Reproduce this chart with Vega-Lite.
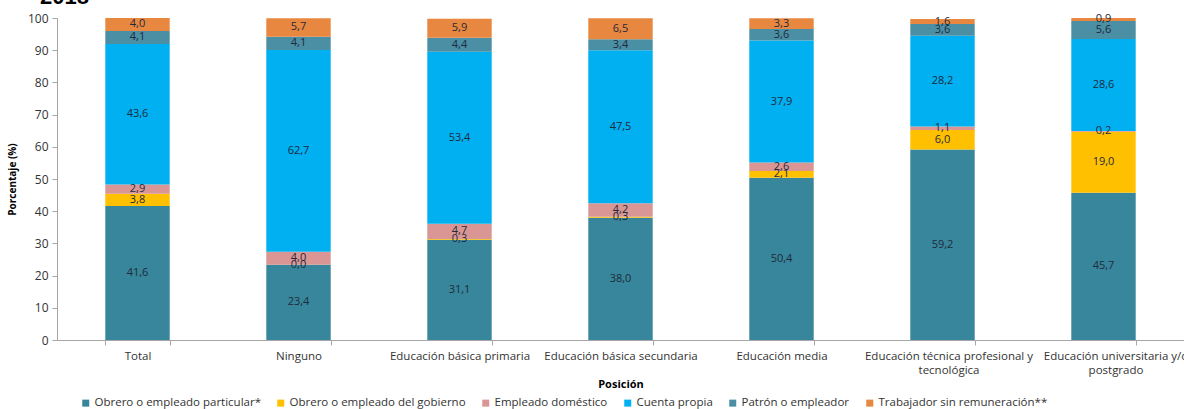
{
  "$schema": "https://vega.github.io/schema/vega-lite/v6.json",
  "autosize": "none",
  "width": 1127,
  "height": 322,
  "padding": {"left": 57, "top": 18, "right": 0, "bottom": 69},
  "background": "white",
  "title": {"text": "2018", "anchor": "start", "frame": "group", "fontSize": 22, "font": "Liberation Sans", "fontWeight": "bold", "color": "#000000", "dx": -17, "offset": -14, "baseline": "alphabetic"},
  "config": {
    "locale": {"number": {"decimal": ",", "thousands": ".", "grouping": [3], "currency": ["", ""]}},
    "font": "Open Sans",
    "view": {"stroke": null}
  },
  "data": {"values": [
    {"nivel": "Total", "pos": "Obrero o empleado particular*", "o": 1, "v": 41.6},
    {"nivel": "Total", "pos": "Obrero o empleado del gobierno", "o": 2, "v": 3.8},
    {"nivel": "Total", "pos": "Empleado doméstico", "o": 3, "v": 2.9},
    {"nivel": "Total", "pos": "Cuenta propia", "o": 4, "v": 43.6},
    {"nivel": "Total", "pos": "Patrón o empleador", "o": 5, "v": 4.1},
    {"nivel": "Total", "pos": "Trabajador sin remuneración**", "o": 6, "v": 4.0},
    {"nivel": "Ninguno", "pos": "Obrero o empleado particular*", "o": 1, "v": 23.4},
    {"nivel": "Ninguno", "pos": "Obrero o empleado del gobierno", "o": 2, "v": 0.0},
    {"nivel": "Ninguno", "pos": "Empleado doméstico", "o": 3, "v": 4.0},
    {"nivel": "Ninguno", "pos": "Cuenta propia", "o": 4, "v": 62.7},
    {"nivel": "Ninguno", "pos": "Patrón o empleador", "o": 5, "v": 4.1},
    {"nivel": "Ninguno", "pos": "Trabajador sin remuneración**", "o": 6, "v": 5.7},
    {"nivel": "Educación básica primaria", "pos": "Obrero o empleado particular*", "o": 1, "v": 31.1},
    {"nivel": "Educación básica primaria", "pos": "Obrero o empleado del gobierno", "o": 2, "v": 0.3},
    {"nivel": "Educación básica primaria", "pos": "Empleado doméstico", "o": 3, "v": 4.7},
    {"nivel": "Educación básica primaria", "pos": "Cuenta propia", "o": 4, "v": 53.4},
    {"nivel": "Educación básica primaria", "pos": "Patrón o empleador", "o": 5, "v": 4.4},
    {"nivel": "Educación básica primaria", "pos": "Trabajador sin remuneración**", "o": 6, "v": 5.9},
    {"nivel": "Educación básica secundaria", "pos": "Obrero o empleado particular*", "o": 1, "v": 38.0},
    {"nivel": "Educación básica secundaria", "pos": "Obrero o empleado del gobierno", "o": 2, "v": 0.3},
    {"nivel": "Educación básica secundaria", "pos": "Empleado doméstico", "o": 3, "v": 4.2},
    {"nivel": "Educación básica secundaria", "pos": "Cuenta propia", "o": 4, "v": 47.5},
    {"nivel": "Educación básica secundaria", "pos": "Patrón o empleador", "o": 5, "v": 3.4},
    {"nivel": "Educación básica secundaria", "pos": "Trabajador sin remuneración**", "o": 6, "v": 6.5},
    {"nivel": "Educación media", "pos": "Obrero o empleado particular*", "o": 1, "v": 50.4},
    {"nivel": "Educación media", "pos": "Obrero o empleado del gobierno", "o": 2, "v": 2.1},
    {"nivel": "Educación media", "pos": "Empleado doméstico", "o": 3, "v": 2.6},
    {"nivel": "Educación media", "pos": "Cuenta propia", "o": 4, "v": 37.9},
    {"nivel": "Educación media", "pos": "Patrón o empleador", "o": 5, "v": 3.6},
    {"nivel": "Educación media", "pos": "Trabajador sin remuneración**", "o": 6, "v": 3.3},
    {"nivel": "Educación técnica profesional y tecnológica", "pos": "Obrero o empleado particular*", "o": 1, "v": 59.2},
    {"nivel": "Educación técnica profesional y tecnológica", "pos": "Obrero o empleado del gobierno", "o": 2, "v": 6.0},
    {"nivel": "Educación técnica profesional y tecnológica", "pos": "Empleado doméstico", "o": 3, "v": 1.1},
    {"nivel": "Educación técnica profesional y tecnológica", "pos": "Cuenta propia", "o": 4, "v": 28.2},
    {"nivel": "Educación técnica profesional y tecnológica", "pos": "Patrón o empleador", "o": 5, "v": 3.6},
    {"nivel": "Educación técnica profesional y tecnológica", "pos": "Trabajador sin remuneración**", "o": 6, "v": 1.6},
    {"nivel": "Educación universitaria y/o postgrado", "pos": "Obrero o empleado particular*", "o": 1, "v": 45.7},
    {"nivel": "Educación universitaria y/o postgrado", "pos": "Obrero o empleado del gobierno", "o": 2, "v": 19.0},
    {"nivel": "Educación universitaria y/o postgrado", "pos": "Empleado doméstico", "o": 3, "v": 0.2},
    {"nivel": "Educación universitaria y/o postgrado", "pos": "Cuenta propia", "o": 4, "v": 28.6},
    {"nivel": "Educación universitaria y/o postgrado", "pos": "Patrón o empleador", "o": 5, "v": 5.6},
    {"nivel": "Educación universitaria y/o postgrado", "pos": "Trabajador sin remuneración**", "o": 6, "v": 0.9}
  ]},
  "transform": [
    {"stack": "v", "groupby": ["nivel"], "sort": [{"field": "o", "order": "ascending"}], "as": ["v0", "v1"]},
    {"calculate": "(datum.v0 + datum.v1) / 2", "as": "mid"}
  ],
  "encoding": {
    "x": {
      "field": "nivel", "type": "nominal", "sort": null,
      "scale": {"paddingInner": 0.6, "paddingOuter": 0.3},
      "axis": {
        "title": "Posición", "titleFontSize": 11, "titleFontWeight": "bold", "titleColor": "#000000", "titlePadding": 3,
        "labelAngle": 0, "labelFontSize": 11.5, "labelColor": "#333333", "labelPadding": 5, "labelLimit": 300, "labelLineHeight": 14,
        "labelOffset": {"condition": [{"test": "datum.value == 'Educación técnica profesional y tecnológica'", "value": 6}, {"test": "datum.value == 'Educación universitaria y/o postgrado'", "value": 12}], "value": 0},
        "labelExpr": "datum.value == 'Educación técnica profesional y tecnológica' ? ['Educación técnica profesional y', 'tecnológica'] : datum.value == 'Educación universitaria y/o postgrado' ? ['Educación universitaria y/o', 'postgrado'] : datum.label",
        "tickBand": "extent", "domainColor": "#A6A6A6", "tickColor": "#A6A6A6", "tickSize": 5
      }
    },
    "y": {"type": "quantitative", "scale": {"domain": [0, 100]},
      "axis": {"title": "Porcentaje (%)", "titleFontSize": 10, "titleFontWeight": "bold", "titleColor": "#000000", "titlePadding": 10,
        "values": [0,10,20,30,40,50,60,70,80,90,100], "labelOverlap": false, "grid": false, "labelFontSize": 12, "labelColor": "#333333",
        "domainColor": "#A6A6A6", "tickColor": "#A6A6A6", "tickSize": 5, "labelPadding": 4}}
  },
  "layer": [
    {
      "mark": {"type": "bar"},
      "encoding": {
        "y": {"field": "v0", "type": "quantitative", "scale": {"domain": [0, 100]},
          "axis": {"title": "Porcentaje (%)", "titleFontSize": 10, "titleFontWeight": "bold", "titleColor": "#000000", "titlePadding": 10,
            "values": [0,10,20,30,40,50,60,70,80,90,100], "labelOverlap": false, "grid": false, "labelFontSize": 12, "labelColor": "#333333",
            "domainColor": "#A6A6A6", "tickColor": "#A6A6A6", "tickSize": 5, "labelPadding": 4}},
        "y2": {"field": "v1"},
        "color": {
          "field": "pos", "type": "nominal",
          "scale": {
            "domain": ["Obrero o empleado particular*", "Obrero o empleado del gobierno", "Empleado doméstico", "Cuenta propia", "Patrón o empleador", "Trabajador sin remuneración**"],
            "range": ["#37869B", "#FFC000", "#DA9694", "#00B0F0", "#4A8FA4", "#E8873F"]
          },
          "legend": {
            "title": null, "orient": "none", "direction": "horizontal", "legendX": 23, "legendY": 379,
            "symbolType": "square", "symbolSize": 49, "symbolStrokeWidth": 0, "labelFontSize": 11.5, "labelColor": "#333333", "labelLimit": 400,
            "columnPadding": 14, "labelOffset": 3, "columns": 6
          }
        }
      }
    },
    {
      "mark": {"type": "text", "fontSize": 11, "color": "#1F2A3C", "baseline": "middle"},
      "encoding": {
        "y": {"field": "mid", "type": "quantitative", "axis": {"title": "Porcentaje (%)", "titleFontSize": 10, "titleFontWeight": "bold", "titleColor": "#000000", "titlePadding": 10,
            "values": [0,10,20,30,40,50,60,70,80,90,100], "labelOverlap": false, "grid": false, "labelFontSize": 12, "labelColor": "#333333",
            "domainColor": "#A6A6A6", "tickColor": "#A6A6A6", "tickSize": 5, "labelPadding": 4}},
        "text": {"field": "v", "type": "quantitative", "format": ".1f"}
      }
    }
  ]
}
